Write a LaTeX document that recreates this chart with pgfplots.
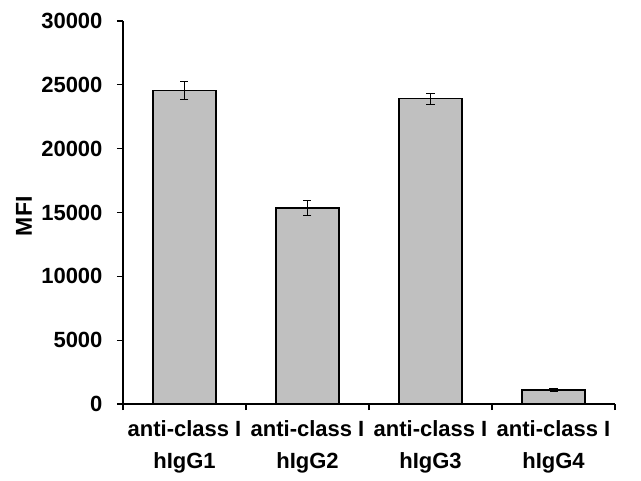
\documentclass[border=0pt]{standalone}
\usepackage{pgfplots}
\pgfplotsset{compat=1.18}
\usepackage{fontspec}
\setmainfont{Liberation Sans}
\definecolor{barfill}{RGB}{192,192,192}
\begin{document}
\fontsize{22bp}{26bp}\selectfont\bfseries
\begin{tikzpicture}
\path (-123bp,-68bp) rectangle (518bp,404bp);
\begin{axis}[
  at={(0,0)}, anchor=south west,
  scale only axis,
  width=492bp, height=383bp,
  xmin=0.5, xmax=4.5,
  ymin=0, ymax=30000,
  axis lines*=left,
  axis line style={line width=1.6bp},
  ytick={0,5000,...,30000},
  tick style={black, line width=1.2bp},
  tick align=outside,
  major tick length=6bp,
  minor tick length=6bp,
  xtick={1,2,3,4},
  minor xtick={0.5,1.5,2.5,3.5,4.5},
  x tick style={draw=none},
  minor x tick style={draw=black, line width=1.2bp},
  xticklabels={{anti-class I\\hIgG1},{anti-class I\\hIgG2},{anti-class I\\hIgG3},{anti-class I\\hIgG4}},
  xticklabel style={align=center, font=\fontsize{22bp}{32bp}\selectfont\bfseries, yshift=-3bp},
  yticklabel style={font=\fontsize{22bp}{26bp}\selectfont\bfseries, xshift=-7bp},
  scaled y ticks=false,
  /pgf/number format/assume math mode=true,
  /pgf/number format/1000 sep={},
  ylabel={MFI},
  ylabel style={font=\fontsize{23bp}{26bp}\selectfont\bfseries, inner sep=0pt, anchor=south, at={(axis description cs:-0.185,0.49)}},
  clip=false,
]
\addplot[ybar, bar width=63bp, fill=barfill, draw=black, line width=1.2bp,
  error bars/.cd, y dir=both, y explicit,
  error bar style={line width=1bp, black},
  error mark options={rotate=90, mark size=4bp, line width=1bp}]
  coordinates {
    (1,24550) +- (0,700)
    (2,15350) +- (0,600)
    (3,23900) +- (0,450)
    (4,1100) +- (0,100)
  };
\end{axis}
\end{tikzpicture}
\end{document}
